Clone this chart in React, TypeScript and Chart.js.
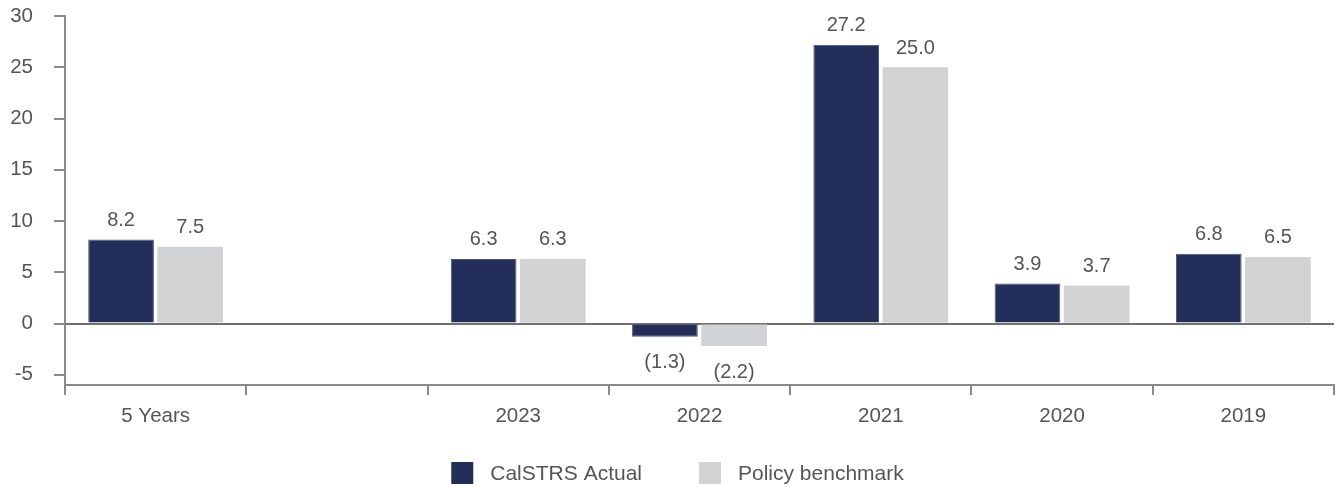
import React, { useEffect, useRef } from 'react';
import { Chart, registerables } from 'chart.js';

Chart.register(...registerables);

const categories = ['5 Years', '', '2023', '2022', '2021', '2020', '2019'];
const calstrsActual: (number | null)[] = [8.2, null, 6.3, -1.3, 27.2, 3.9, 6.8];
const policyBenchmark: (number | null)[] = [7.5, null, 6.3, -2.2, 25.0, 3.7, 6.5];
const seriesNames = ['CalSTRS Actual', 'Policy benchmark'];
const seriesColors = ['#232f5a', '#d1d2d4'];
const yTickValues = [-5, 0, 5, 10, 15, 20, 25, 30];

const FONT = '"Liberation Sans", Arial, Helvetica, sans-serif';
const TEXT = '#555555';
const AXIS = '#8a8a8a';

const valueLabels = {
  id: 'valueLabels',
  afterDatasetsDraw(chart: any) {
    const ctx = chart.ctx;
    ctx.save();
    ctx.font = `20px ${FONT}`;
    ctx.fillStyle = TEXT;
    ctx.textAlign = 'center';
    ctx.textBaseline = 'middle';
    chart.data.datasets.forEach((ds: any, di: number) => {
      const meta = chart.getDatasetMeta(di);
      meta.data.forEach((bar: any, i: number) => {
        const v = ds.data[i];
        if (v === null || v === undefined) return;
        const txt = v >= 0 ? v.toFixed(1) : `(${Math.abs(v).toFixed(1)})`;
        const y = v >= 0 ? bar.y - 19 : bar.y + 26;
        ctx.fillText(txt, bar.x, y);
      });
    });
    ctx.restore();
  },
};

const customLegend = {
  id: 'customLegend',
  afterDraw(chart: any) {
    const ctx = chart.ctx;
    ctx.save();
    ctx.font = `21px ${FONT}`;
    const box = 22;
    const gapText = 17;
    const gapItem = 57;
    const items = chart.data.datasets.map((ds: any) => ({
      label: ds.label,
      color: ds.backgroundColor,
      w: ctx.measureText(ds.label).width,
    }));
    const total =
      items.reduce((s: number, it: any) => s + box + gapText + it.w, 0) +
      gapItem * (items.length - 1);
    let x = chart.width / 2 + 9 - total / 2;
    const yc = chart.chartArea.bottom + 88;
    ctx.textBaseline = 'middle';
    ctx.textAlign = 'left';
    items.forEach((it: any) => {
      ctx.fillStyle = it.color;
      ctx.fillRect(x, yc - box / 2, box, box);
      ctx.fillStyle = TEXT;
      ctx.fillText(it.label, x + box + gapText, yc + 1);
      x += box + gapText + it.w + gapItem;
    });
    ctx.restore();
  },
};

export default function App() {
  const ref = useRef<HTMLCanvasElement | null>(null);

  useEffect(() => {
    document.body.style.margin = '0';
    if (!ref.current) return;
    const chart = new Chart(ref.current, {
      type: 'bar',
      data: {
        labels: categories,
        datasets: [
          {
            label: seriesNames[0],
            data: calstrsActual,
            backgroundColor: seriesColors[0],
            borderColor: '#4a5479',
            borderWidth: 1,
            barPercentage: 0.95,
            categoryPercentage: 0.763,
          },
          {
            label: seriesNames[1],
            data: policyBenchmark,
            backgroundColor: seriesColors[1],
            borderWidth: 0,
            barPercentage: 0.95,
            categoryPercentage: 0.763,
          },
        ],
      },
      options: {
        animation: false,
        responsive: false,
        devicePixelRatio: 1,
        layout: { padding: { left: 0, right: 3, top: 16, bottom: 52 } },
        plugins: {
          legend: { display: false },
          tooltip: { enabled: false },
        },
        scales: {
          x: {
            offset: true,
            grid: {
              display: true,
              offset: true,
              drawOnChartArea: false,
              drawTicks: true,
              tickLength: 10,
              tickColor: AXIS,
              tickWidth: 2,
              lineWidth: 2,
              color: AXIS,
            },
            border: { display: true, color: AXIS, width: 2 },
            ticks: {
              font: { family: FONT, size: 20.5 },
              color: TEXT,
              padding: 9,
              maxRotation: 0,
              autoSkip: false,
            },
            afterFit(scale: any) {
              scale.height = 50;
              scale.paddingLeft = 0;
              scale.paddingRight = 0;
            },
          },
          y: {
            min: -6,
            max: 30,
            afterBuildTicks(scale: any) {
              scale.ticks = yTickValues.map((v) => ({ value: v }));
            },
            grid: {
              display: true,
              drawOnChartArea: true,
              drawTicks: true,
              tickLength: 11,
              tickColor: AXIS,
              tickWidth: 2,
              lineWidth: 2,
              color: (c: any) =>
                c.tick && c.tick.value === 0 ? '#707070' : 'rgba(0,0,0,0)',
            },
            border: { display: true, color: AXIS, width: 2 },
            ticks: {
              font: { family: FONT, size: 20.5 },
              color: TEXT,
              padding: 21,
              callback: (v: any) => String(v),
            },
            afterFit(scale: any) {
              scale.width = 65;
              scale.paddingTop = 0;
              scale.paddingBottom = 0;
            },
          },
        },
      },
      plugins: [valueLabels, customLegend],
    });
    return () => chart.destroy();
  }, []);

  return (
    <div style={{ width: 1337, height: 487 }}>
      <canvas ref={ref} width={1337} height={487} style={{ display: 'block' }} />
    </div>
  );
}
